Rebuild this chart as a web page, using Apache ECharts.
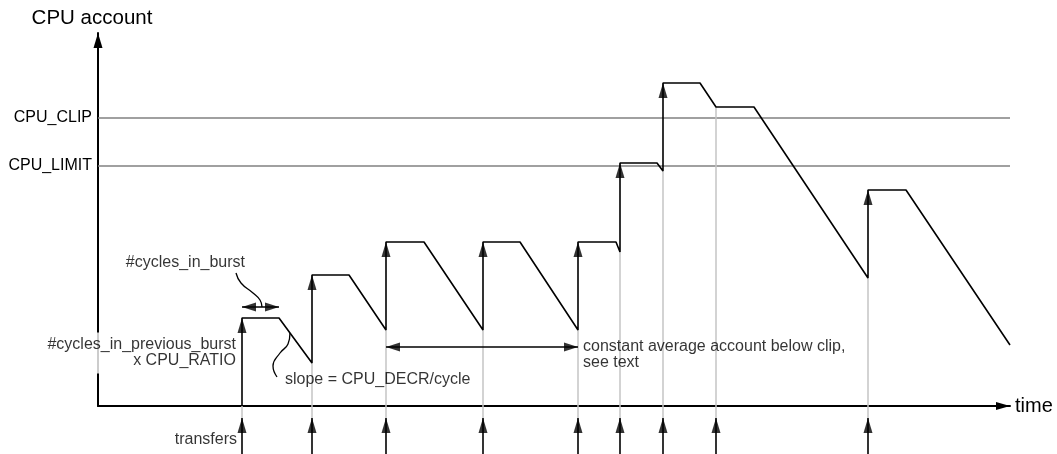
<!DOCTYPE html>
<html><head><meta charset="utf-8">
<script src="https://cdn.jsdelivr.net/npm/echarts@6/dist/echarts.min.js"></script>
<style>html,body{margin:0;padding:0;background:#fff}#c{width:1057px;height:454px}</style>
</head><body><div id="c"></div>
<script>
// Units: x = time, y = CPU account
const timeEnd = 912;
const accountEnd = 373;
const thresholdNames = ['CPU_LIMIT', 'CPU_CLIP'];
const thresholdValues = [240, 288];
const transferTimes = [144, 214, 288, 385, 480, 522, 565, 618, 770];
const accountBeforeTransfer = [0, 43, 76, 76, 76, 154, 235, 299, 128];
const accountAfterTransfer  = [88, 131, 164, 164, 164, 243, 323, 299, 216];
const accountCurve = [
  [144, 0], [144, 88], [181, 88], [214, 43], [214, 131], [251, 131], [288, 76],
  [288, 164], [326, 164], [385, 76], [385, 164], [422, 164], [480, 76],
  [480, 164], [518, 164], [522, 154], [522, 243], [559, 243], [565, 235],
  [565, 323], [602, 323], [618, 299], [656, 299], [770, 128], [770, 216],
  [808, 216], [912, 61]
];
const transferArrowBottom = -48;
const transferArrowTip = -12;
const burstSpan = [[144, 99], [181, 99]];
const burstLeader = [[138, 133], [143, 123], [155, 113], [162, 106], [164, 99]];
const constantSpan = [[288, 59], [480, 59]];
const slopeLeader = [[179, 29], [175, 40], [182, 53], [190, 62], [192, 73]];
const noteTexts = ['#cycles_in_burst', '#cycles_in_previous_burst\nx CPU_RATIO',
  'slope = CPU_DECR/cycle', 'constant average account below clip,\nsee text', 'transfers'];
const notePoints = [[147, 143], [138, 53], [187, 26], [485, 51], [139, -34]];
const noteAlign = ['right', 'right', 'left', 'left', 'right'];

const FONT = "'Liberation Sans', Arial, Helvetica, sans-serif";
const seg = (data, color, width, extra) => Object.assign({
  type: 'line', data, symbol: 'none', showSymbol: false, clip: false, silent: true,
  animation: false, lineStyle: { color, width }, z: 2
}, extra || {});

const series = [];
thresholdValues.forEach(v => series.push(seg([[0, v], [timeEnd, v]], '#808080', 1.6, { z: 1 })));
transferTimes.forEach((t, i) => series.push(seg([[t, transferArrowTip], [t, accountBeforeTransfer[i]]], '#c4c4c4', 1.5, { z: 1 })));
series.push(seg(accountCurve, '#000', 1.6, { z: 3 }));
transferTimes.forEach(t => series.push(seg([[t, transferArrowBottom], [t, transferArrowTip]], '#000', 1.6, { z: 3 })));
series.push(seg(burstSpan, '#000', 1.6, { z: 3 }));
series.push(seg(constantSpan, '#000', 1.6, { z: 3 }));
series.push(seg(burstLeader, '#000', 1.3, { smooth: 0.5, z: 3 }));
series.push(seg(slopeLeader, '#000', 1.3, { smooth: 0.5, z: 3 }));

const upHeads = [];
transferTimes.forEach((t, i) => {
  if (accountAfterTransfer[i] > accountBeforeTransfer[i]) upHeads.push([t, accountAfterTransfer[i]]);
  upHeads.push([t, transferArrowTip]);
});
series.push({
  type: 'scatter', data: upHeads, symbol: 'triangle', symbolSize: [9, 15], symbolOffset: [0, 7.5],
  itemStyle: { color: '#000' }, clip: false, silent: true, animation: false, z: 4
});
const leftHeads = [burstSpan[0], constantSpan[0]];
const rightHeads = [burstSpan[1], constantSpan[1]];
series.push({
  type: 'scatter', data: leftHeads, symbol: 'triangle', symbolSize: [9, 14], symbolRotate: 90, symbolOffset: [7, 0],
  itemStyle: { color: '#000' }, clip: false, silent: true, animation: false, z: 4
});
series.push({
  type: 'scatter', data: rightHeads, symbol: 'triangle', symbolSize: [9, 14], symbolRotate: -90, symbolOffset: [-7, 0],
  itemStyle: { color: '#000' }, clip: false, silent: true, animation: false, z: 4
});
series.push({
  type: 'scatter', symbolSize: 0, clip: false, silent: true, animation: false, z: 6,
  data: notePoints.map((p, i) => ({
    value: p,
    label: {
      show: true, position: 'inside', formatter: noteTexts[i], align: noteAlign[i], verticalAlign: 'middle',
      color: '#000', fontSize: 16, fontFamily: FONT, lineHeight: 16,
      backgroundColor: i === 1 ? '#fff' : 'transparent', padding: i === 1 ? [4, 0, 5, 4] : 0
    }
  }))
});

const chart = echarts.init(document.getElementById('c'), null, { renderer: 'canvas' });
chart.setOption({
  animation: false,
  backgroundColor: '#fff',
  grid: { left: 98, right: 47, top: 33, bottom: 48, containLabel: false, outerBoundsMode: 'none' },
  xAxis: {
    type: 'value', min: 0, max: timeEnd,
    name: 'time', nameLocation: 'end', nameGap: 5,
    nameTextStyle: { fontSize: 20, color: '#000', fontFamily: FONT, verticalAlign: 'middle' },
    axisLine: { show: true, onZero: true, symbol: ['none', 'triangle'], symbolSize: [8, 14], symbolOffset: [0, -7],
      lineStyle: { color: '#000', width: 2 } },
    axisTick: { show: false }, axisLabel: { show: false }, splitLine: { show: false }
  },
  yAxis: {
    type: 'value', min: 0, max: accountEnd,
    name: 'CPU account', nameLocation: 'end', nameGap: 4,
    nameTextStyle: { fontSize: 20.5, color: '#000', fontFamily: FONT, padding: [0, 12, 0, 0] },
    axisLine: { show: true, symbol: ['none', 'triangle'], symbolSize: [9, 15], symbolOffset: [0, -7.5],
      lineStyle: { color: '#000', width: 2 } },
    axisTick: { show: false }, splitLine: { show: false },
    axisLabel: {
      show: true, customValues: thresholdValues, margin: 6,
      formatter: v => thresholdNames[thresholdValues.indexOf(v)],
      color: '#000', fontSize: 16, fontFamily: FONT
    }
  },
  series
});
</script></body></html>
